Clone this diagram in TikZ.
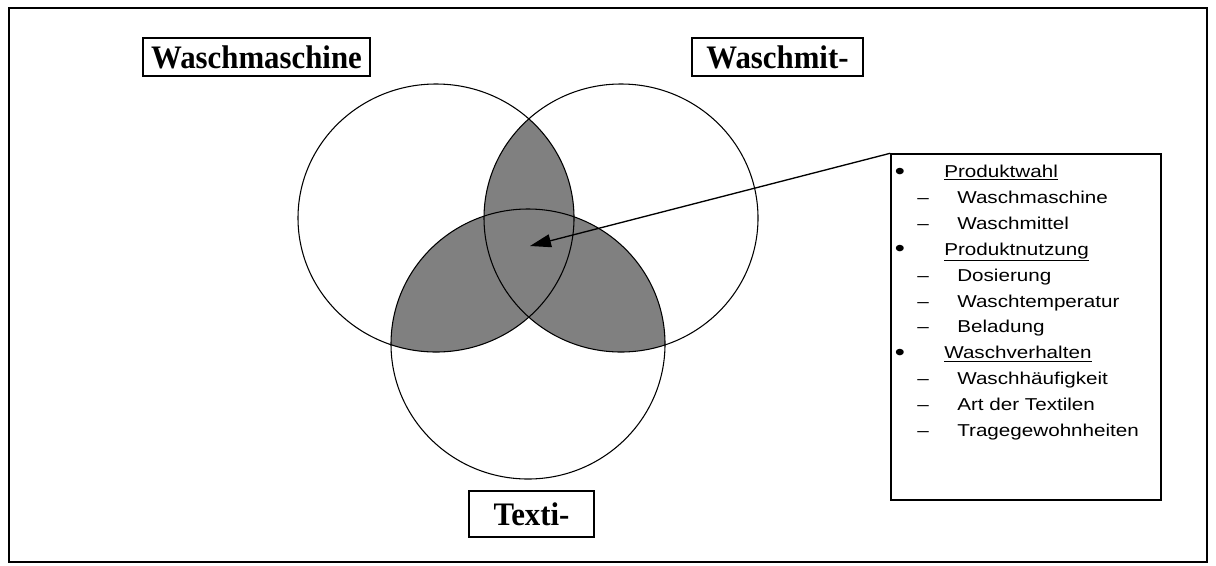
\documentclass[tikz,border=0pt]{standalone}
\usepackage{fontspec}
\setmainfont{Liberation Serif}
\newfontfamily\labfont[FakeStretch=0.94]{Liberation Serif}
\newfontfamily\listfont[FakeStretch=1.2]{Liberation Sans}
\usetikzlibrary{arrows.meta,shapes.geometric}
\definecolor{venngray}{RGB}{128,128,128}
\begin{document}
\begin{tikzpicture}[x=0.75pt,y=-0.75pt,
  lab/.style={draw, line width=1.2pt, inner sep=0pt, font=\labfont\fontsize{24.6pt}{26pt}\selectfont\bfseries},
  ring/.style={draw, ellipse, line width=0.8pt, inner sep=0pt},
  item/.style={anchor=base west, inner sep=0pt, font=\listfont\fontsize{12.9pt}{15pt}\selectfont},
  listmark/.style={anchor=base, inner sep=0pt, font=\listfont\fontsize{12.9pt}{15pt}\selectfont},
  bul/.style={anchor=base, inner sep=0pt, font=\listfont\fontsize{18pt}{15pt}\selectfont}]
\useasboundingbox (0,0) rectangle (1216,565);
\node[draw, line width=1.1pt, minimum width=1198*0.75pt, minimum height=554*0.75pt, inner sep=0pt] (frame) at (608,285) {};

% shaded overlaps
\begin{scope}
  \clip (436,218) ellipse [x radius=138, y radius=134];
  \fill[venngray] (621,218) ellipse [x radius=137, y radius=134];
  \fill[venngray] (528,344) ellipse [x radius=137, y radius=135];
\end{scope}
\begin{scope}
  \clip (621,218) ellipse [x radius=137, y radius=134];
  \fill[venngray] (528,344) ellipse [x radius=137, y radius=135];
\end{scope}

\node[ring, minimum width=276*0.75pt, minimum height=268*0.75pt] (ma) at (436,218) {};
\node[ring, minimum width=274*0.75pt, minimum height=268*0.75pt] (mi) at (621,218) {};
\node[ring, minimum width=274*0.75pt, minimum height=270*0.75pt] (te) at (528,344) {};

\node[lab, minimum width=227*0.75pt, minimum height=38*0.75pt] (lma) at (256.5,57) {Waschmaschine};
\node[lab, minimum width=171*0.75pt, minimum height=38*0.75pt] (lmi) at (777.5,57) {Waschmit-};
\node[lab, minimum width=125*0.75pt, minimum height=46*0.75pt] (lte) at (531.5,514) {Texti-};

\node[draw, line width=1.1pt, minimum width=270*0.75pt, minimum height=346*0.75pt, inner sep=0pt] (list) at (1026,327) {};

\coordinate (tip) at (530,246);
\draw[line width=1pt, -{Triangle[length=21pt*0.75, width=13pt*0.75]}] (list.north west) -- (tip);

% list content
\node[bul] (b1) at (900,179) {•};
\node[item] (h1) at (944,177.5) {\underline{Produktwahl}};
\node[listmark] (d1) at (923,203.4) {–};
\node[item] (s1) at (957,203.4) {Waschmaschine};
\node[listmark] (d2) at (923,229.3) {–};
\node[item] (s2) at (957,229.3) {Waschmittel};
\node[bul] (b2) at (900,256.7) {•};
\node[item] (h2) at (944,255.2) {\underline{Produktnutzung}};
\node[listmark] (d3) at (923,281.1) {–};
\node[item] (s3) at (957,281.1) {Dosierung};
\node[listmark] (d4) at (923,307) {–};
\node[item] (s4) at (957,307) {Waschtemperatur};
\node[listmark] (d5) at (923,332.9) {–};
\node[item] (s5) at (957,332.9) {Beladung};
\node[bul] (b3) at (900,360.3) {•};
\node[item] (h3) at (944,358.8) {\underline{Waschverhalten}};
\node[listmark] (d6) at (923,384.7) {–};
\node[item] (s6) at (957,384.7) {Waschhäufigkeit};
\node[listmark] (d7) at (923,410.6) {–};
\node[item] (s7) at (957,410.6) {Art der Textilen};
\node[listmark] (d8) at (923,436.5) {–};
\node[item] (s8) at (957,436.5) {Tragegewohnheiten};
\end{tikzpicture}
\end{document}
